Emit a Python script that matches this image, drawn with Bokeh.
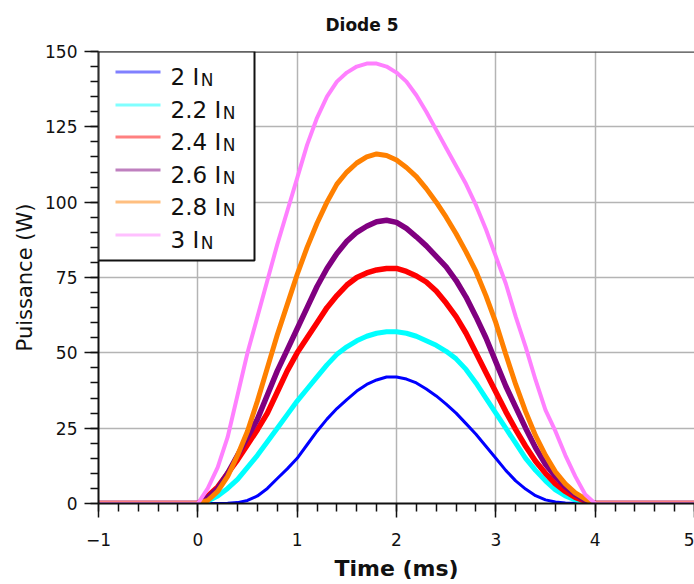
from bokeh.plotting import figure
from bokeh.models import (SingleIntervalTicker, Label, BoxAnnotation, Range1d,
                          Span, CustomJSTickFormatter)
from bokeh.embed import file_html
from bokeh.resources import INLINE

# ---------------- data ----------------
time_ms = [-1.0,
           0.0, 0.1, 0.2, 0.3, 0.4, 0.5, 0.6, 0.7, 0.8, 0.9,
           1.0, 1.1, 1.2, 1.3, 1.4, 1.5, 1.6, 1.7, 1.8, 1.9,
           2.0, 2.1, 2.2, 2.3, 2.4, 2.5, 2.6, 2.7, 2.8, 2.9,
           3.0, 3.1, 3.2, 3.3, 3.4, 3.5, 3.6, 3.7, 3.8, 3.9,
           4.0, 5.0]

p_2_0 = [0,
         0, 0, 0, 0.1, 0.3, 1, 2.5, 5, 8.3, 11.5,
         15, 19.5, 24, 28, 31.5, 34.5, 37.3, 39.5, 41, 42,
         42, 41.3, 40, 38, 35.7, 33, 30, 26.5, 23, 19,
         15, 11, 7.5, 4.8, 2.6, 1.2, 0.5, 0.2, 0.1, 0,
         0, 0]

p_2_2 = [0,
         0, 0.8, 2.5, 5, 8, 12, 16, 20.5, 25, 29.5,
         34, 38, 42, 46, 49.5, 52, 54, 55.5, 56.5, 57,
         57, 56.5, 55.5, 54, 52.5, 50.5, 48, 44.5, 40, 35,
         30, 25, 20, 15, 11, 7.5, 4.5, 2.5, 1.2, 0.4,
         0, 0]

p_2_4 = [0,
         0, 2.5, 5.5, 10, 14.5, 19.5, 24.5, 30, 37, 44,
         50, 55, 60, 65, 69, 72.5, 75, 76.5, 77.5, 78,
         78, 77, 75.5, 73.5, 70.5, 66.5, 62, 56.5, 50, 43.5,
         37, 30.5, 24.5, 19, 14, 10, 6.5, 4, 2, 0.8,
         0, 0]

p_2_6 = [0,
         0, 2, 5, 10, 16, 22, 28, 36, 44, 51,
         58, 65, 72, 78, 83, 87, 90, 92, 93.5, 94,
         93.3, 91.3, 88.5, 85.5, 82, 78.5, 74, 68.5, 62, 55,
         47, 39, 32, 25, 18.5, 13, 9, 5.5, 3, 1,
         0, 0]

p_2_8 = [0,
         0, 1, 4, 9, 16, 24, 34, 45, 56, 66,
         76, 85, 93, 100, 106, 110, 113, 115, 116, 115.5,
         114, 111.5, 108.5, 104.5, 100, 95, 89.5, 83.5, 77, 69,
         60, 49.5, 39.5, 30.5, 22.5, 16, 10.5, 6.5, 3.5, 1.5,
         0, 0]

p_3_0 = [0,
         0, 5, 12, 22, 36, 50, 62, 74, 86, 97,
         108, 119, 128, 135, 140, 143, 145, 146, 146, 145,
         143, 140, 135.5, 130, 124, 118, 112, 106, 99, 91,
         82, 73, 62, 52, 41, 31, 24, 16, 9, 3,
         0, 0]

series_labels = ["2", "2.2", "2.4", "2.6", "2.8", "3"]
series_values = [p_2_0, p_2_2, p_2_4, p_2_6, p_2_8, p_3_0]
series_colors = ["#0000ff", "#00ffff", "#ff0000", "#800080", "#ff8000", "#ff80ff"]
legend_colors = ["#8080ff", "#80ffff", "#ff8080", "#bf80bf", "#ffbf80", "#ffc0ff"]
series_widths = [3, 5, 5.5, 5.5, 5, 4]

x_ticks_interval = 1
y_ticks_interval = 25

FONT = "DejaVu Sans"
X0, X1, Y0, Y1 = -1, 5, 0, 150

# ---------------- figure ----------------
p = figure(width=694, height=584,
           x_range=Range1d(X0, X1), y_range=Range1d(Y0, Y1),
           output_backend="svg", toolbar_location=None,
           min_border_left=98, min_border_right=0,
           min_border_top=51, min_border_bottom=81)
p.outline_line_color = None
p.background_fill_color = "white"
p.border_fill_color = "white"

p.title.text = "Diode 5"
p.title.text_font = FONT
p.title.text_font_size = "17px"
p.title.text_font_style = "bold"
p.title.text_color = "#111111"
p.title.align = "left"
p.title.offset = 227
p.title.vertical_align = "top"
p.title.standoff = 29

for ax in (p.xaxis[0], p.yaxis[0]):
    ax.axis_line_color = "#111111"
    ax.axis_line_width = 2
    ax.major_tick_line_color = "#111111"
    ax.minor_tick_line_color = "#111111"
    ax.major_tick_line_width = 1.5
    ax.minor_tick_line_width = 1.5
    ax.major_tick_in = 0
    ax.minor_tick_in = 0
    ax.major_tick_out = 14
    ax.minor_tick_out = 8
    ax.major_label_text_font = FONT
    ax.major_label_text_font_size = "17px"
    ax.major_label_text_color = "#111111"
    ax.axis_label_text_font = FONT
    ax.axis_label_text_color = "#111111"

p.xaxis.ticker = SingleIntervalTicker(interval=x_ticks_interval, num_minor_ticks=5)
p.yaxis.ticker = SingleIntervalTicker(interval=y_ticks_interval, num_minor_ticks=5)
p.xaxis.formatter = CustomJSTickFormatter(
    code="return tick < 0 ? '\u2212' + Math.abs(tick) : String(tick);")
p.xaxis.axis_label = "Time (ms)"
p.xaxis.axis_label_text_font_size = "22px"
p.xaxis.axis_label_text_font_style = "bold"
p.xaxis.major_label_standoff = 15
p.xaxis.axis_label_standoff = 7
p.yaxis.axis_label = "Puissance (W)"
p.yaxis.axis_label_text_font_size = "21px"
p.yaxis.axis_label_text_font_style = "normal"
p.yaxis.major_label_standoff = 7
p.yaxis.axis_label_standoff = 5

p.grid.grid_line_color = "#b4b4b4"
p.grid.grid_line_width = 1.5

p.add_layout(Span(location=Y1, dimension="width", line_color="#444444", line_width=2.5))

# ---------------- curves ----------------
for vals, col, w in zip(series_values, series_colors, series_widths):
    p.line(time_ms, vals, line_color=col, line_width=w)

# ---------------- page-pixel helpers for legend placement ----------------
FR_L, FR_R, FR_T, FR_B = 98, 694, 51, 503   # frame edges on the page (px)


def dx(px):
    return X0 + (px - FR_L) * (X1 - X0) / (FR_R - FR_L)


def dy(py):
    return Y0 + (FR_B - py) * (Y1 - Y0) / (FR_B - FR_T)


# legend (drawn by hand to get the subscript N)
p.add_layout(BoxAnnotation(left=X0, right=dx(254), top=Y1, bottom=dy(260),
                           fill_color="white", fill_alpha=1.0,
                           line_color="#111111", line_width=2, line_alpha=1.0))

ADV = {"0": .636, "1": .636, "2": .636, "3": .636, "4": .636, "5": .636,
       "6": .636, "7": .636, "8": .636, "9": .636, ".": .318, " ": .318, "I": .295}
row_y = [73, 106, 138, 171, 203, 236]
for lab, col, ry in zip(series_labels, legend_colors, row_y):
    p.line([dx(115), dx(160)], [dy(ry - 1.5), dy(ry - 1.5)], line_color=col,
           line_width=3, level="overlay")
    txt = lab + " I"
    p.add_layout(Label(x=dx(170), y=dy(ry + 3), text=txt, text_font=FONT,
                       text_font_size="23px", text_color="#111111",
                       text_baseline="alphabetic", text_align="left"))
    w = sum(ADV[c] for c in txt) * 23
    p.add_layout(Label(x=dx(170 + w + 1.5), y=dy(ry + 6), text="N", text_font=FONT,
                       text_font_size="17px", text_color="#111111",
                       text_baseline="alphabetic", text_align="left"))

open("out.html", "w").write(file_html(p, INLINE))
